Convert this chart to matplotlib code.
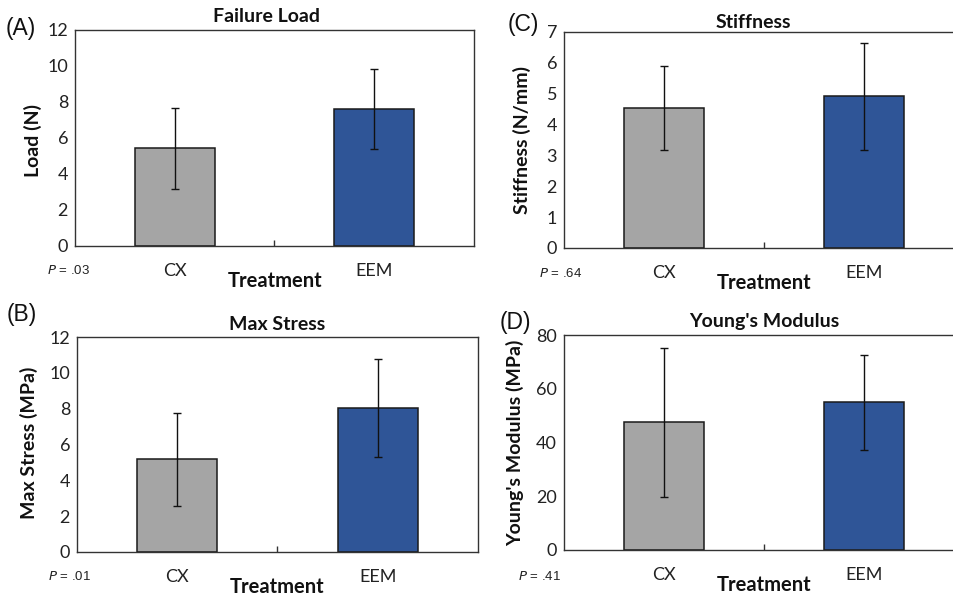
import matplotlib
matplotlib.use("Agg")
import matplotlib.pyplot as plt

W, H = 954, 600

groups = ["CX", "EEM"]
bar_colors = ["#A5A5A5", "#2F5597"]

load_mean = [5.42, 7.63]
load_err = [2.26, 2.22]

stiff_mean = [4.55, 4.91]
stiff_err = [1.36, 1.72]

stress_mean = [5.17, 8.04]
stress_err = [2.60, 2.76]

young_mean = [47.5, 54.9]
young_err = [27.6, 17.8]

panels = [
    # tag, title, ylabel, mean, err, ymax, ystep, p, box(l, r, top, bottom) px
    ("(A)", "Failure Load", "Load (N)", load_mean, load_err, 12, 2, ".03",
     (75, 474, 30, 246)),
    ("(C)", "Stiffness", "Stiffness (N/mm)", stiff_mean, stiff_err, 7, 1, ".64",
     (564, 964, 32, 248)),
    ("(B)", "Max Stress", "Max Stress (MPa)", stress_mean, stress_err, 12, 2, ".01",
     (77, 478, 337, 552)),
    ("(D)", "Young's Modulus", "Young's Modulus (MPa)", young_mean, young_err, 80, 20, ".41",
     (564, 964, 335, 550)),
]

# text positions in px (title, ylabel, treatment, tag, p-value)
text_pos = [
    dict(title=(267, 17), ylab=(33, 140), treat=(275, 281), tag=(21, 29), p=(47, 271)),
    dict(title=(753, 22), ylab=(522, 140), treat=(764, 283), tag=(523, 25), p=(539, 273)),
    dict(title=(277, 324), ylab=(29, 443), treat=(277, 587), tag=(22, 315), p=(48, 576)),
    dict(title=(764, 322), ylab=(515, 443), treat=(764, 585), tag=(515, 322), p=(518, 576)),
]

plt.rcParams["font.family"] = ["Lato", "DejaVu Sans"]

fig = plt.figure(figsize=(W / 100, H / 100), dpi=100)


def fx(x):
    return x / W


def fy(y):
    return 1 - y / H


for (tag, title, ylab, mean, err, ymax, ystep, p, box), tp in zip(panels, text_pos):
    l, r, t, b = box
    ax = fig.add_axes([fx(l), fy(b), (r - l) / W, (b - t) / H])
    ax.bar([0, 1], mean, width=0.4, color=bar_colors,
           edgecolor="#1a1a1a", linewidth=1.1, zorder=2)
    ax.errorbar([0, 1], mean, yerr=err, fmt="none", ecolor="#111111",
                elinewidth=1.0, capsize=3, capthick=1.0, zorder=3)
    ax.set_xlim(-0.5, 1.5)
    ax.set_ylim(0, ymax)
    ax.set_yticks(range(0, ymax + 1, ystep))
    ax.tick_params(axis="y", length=0, pad=5, labelsize=13, labelcolor="#222222")
    ax.set_xticks([0, 1])
    ax.set_xticklabels(groups)
    ax.tick_params(axis="x", which="major", length=0, pad=12, labelsize=13,
                   labelcolor="#222222")
    ax.set_xticks([0.5], minor=True)
    ax.tick_params(axis="x", which="minor", direction="in", length=4.3,
                   width=1.0, color="#333333")
    for s in ax.spines.values():
        s.set_color("#333333")
        s.set_linewidth(1.0)

    fig.text(fx(tp["title"][0]), fy(tp["title"][1]), title, ha="center", va="center",
             fontsize=14, fontweight="bold", color="#111111")
    fig.text(fx(tp["ylab"][0]), fy(tp["ylab"][1]), ylab, ha="center", va="center",
             rotation=90, fontsize=14, fontweight="bold", color="#111111")
    fig.text(fx(tp["treat"][0]), fy(tp["treat"][1]), "Treatment", ha="center",
             va="center", fontsize=14.5, fontweight="bold", color="#111111")
    fig.text(fx(tp["tag"][0]), fy(tp["tag"][1]), tag, ha="center", va="center",
             fontsize=16.5, family="Liberation Sans", color="#111111")
    fig.text(fx(tp["p"][0]), fy(tp["p"][1]), r"$\it{P}$ = " + p, ha="left",
             va="center", fontsize=9.5, family="Liberation Sans", color="#222222")

fig.savefig("out.png", dpi=100)
